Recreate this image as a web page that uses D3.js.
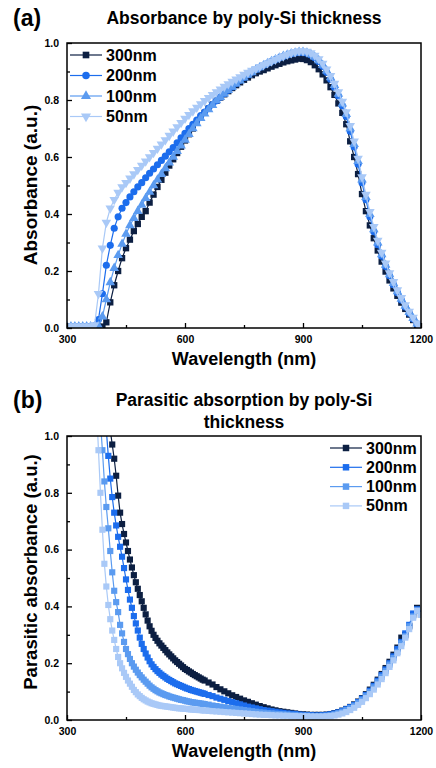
<!DOCTYPE html>
<html>
<head>
<meta charset="utf-8">
<script src="https://cdn.jsdelivr.net/npm/d3@7"></script>
<style>
  body { margin: 0; background: #fff; }
  text { font-family: "Liberation Sans", Arial, sans-serif; font-weight: bold; }
</style>
</head>
<body>
<svg id="chart" width="436" height="768"></svg>
<script>
// legend labels / series names
var thickness = ["300nm", "200nm", "100nm", "50nm"];

// (a) absorbance, 300-1200 nm every 10 nm
var wlA = d3.range(300, 1201, 10);
var absA300 = [0.004,0.004,0.004,0.004,0.004,0.004,0.004,0.004,0.004,0.005,
  0.02,0.09,0.15,0.2,0.245,0.28,0.31,0.34,0.365,0.39,
  0.41,0.44,0.468,0.495,0.52,0.545,0.57,0.592,0.614,0.636,
  0.658,0.68,0.7,0.72,0.738,0.755,0.77,0.784,0.797,0.809,
  0.82,0.831,0.842,0.852,0.862,0.871,0.879,0.887,0.894,0.9,
  0.905,0.911,0.917,0.922,0.927,0.932,0.936,0.939,0.942,0.945,
  0.944,0.94,0.933,0.922,0.908,0.89,0.869,0.845,0.818,0.788,
  0.755,0.715,0.655,0.6,0.54,0.47,0.41,0.36,0.315,0.272,
  0.233,0.198,0.167,0.139,0.113,0.089,0.067,0.047,0.028,0.011,
  0.002];
var absA200 = [0.005,0.005,0.005,0.005,0.005,0.005,0.005,0.008,0.03,0.12,
  0.22,0.29,0.35,0.39,0.42,0.44,0.46,0.478,0.495,0.51,
  0.527,0.543,0.558,0.573,0.588,0.603,0.618,0.633,0.65,0.667,
  0.683,0.7,0.715,0.73,0.745,0.758,0.771,0.784,0.797,0.81,
  0.822,0.834,0.846,0.858,0.869,0.879,0.889,0.898,0.907,0.915,
  0.922,0.929,0.936,0.942,0.948,0.953,0.958,0.962,0.965,0.967,
  0.967,0.964,0.958,0.948,0.935,0.918,0.897,0.873,0.845,0.814,
  0.78,0.742,0.69,0.635,0.575,0.51,0.45,0.39,0.338,0.292,
  0.252,0.216,0.183,0.152,0.124,0.098,0.074,0.052,0.032,0.014,
  0.003];
var absA100 = [0.005,0.005,0.005,0.005,0.005,0.005,0.005,0.005,0.008,0.04,
  0.1,0.16,0.21,0.255,0.295,0.33,0.36,0.385,0.41,0.432,
  0.455,0.477,0.5,0.52,0.54,0.56,0.58,0.6,0.62,0.64,
  0.66,0.68,0.7,0.718,0.736,0.752,0.767,0.782,0.798,0.81,
  0.822,0.834,0.846,0.857,0.868,0.878,0.888,0.897,0.906,0.914,
  0.922,0.929,0.936,0.942,0.948,0.954,0.959,0.963,0.966,0.968,
  0.968,0.966,0.96,0.951,0.939,0.923,0.903,0.879,0.852,0.821,
  0.787,0.75,0.7,0.645,0.585,0.52,0.459,0.399,0.346,0.299,
  0.258,0.221,0.188,0.157,0.128,0.102,0.077,0.055,0.034,0.015,
  0.003];
var absA50 = [0.006,0.006,0.006,0.006,0.006,0.006,0.006,0.01,0.12,0.28,
  0.37,0.42,0.45,0.475,0.495,0.51,0.525,0.54,0.555,0.57,
  0.585,0.6,0.615,0.63,0.645,0.66,0.675,0.69,0.705,0.72,
  0.735,0.748,0.761,0.774,0.786,0.797,0.808,0.818,0.828,0.838,
  0.847,0.856,0.865,0.873,0.881,0.889,0.896,0.903,0.91,0.917,
  0.924,0.93,0.936,0.942,0.948,0.954,0.96,0.965,0.969,0.972,
  0.972,0.97,0.965,0.956,0.944,0.928,0.908,0.885,0.858,0.828,
  0.795,0.758,0.71,0.655,0.595,0.53,0.468,0.408,0.355,0.307,
  0.265,0.227,0.193,0.162,0.133,0.106,0.081,0.058,0.037,0.017,
  0.004];

// (b) parasitic absorbance, 5 nm steps up to 645 nm, then 10 nm
var wlB = d3.range(370, 650, 5).concat(d3.range(650, 1201, 10));
var parB300 = [1.6,1.52,1.44,1.36,1.28,1.21,1.14,1.08,1.02,0.97,
  0.92,0.86,0.79,0.73,0.69,0.655,0.625,0.595,0.565,0.537,
  0.51,0.485,0.462,0.44,0.418,0.395,0.372,0.35,0.33,0.314,
  0.3,0.289,0.279,0.27,0.262,0.254,0.246,0.238,0.231,0.224,
  0.217,0.21,0.204,0.198,0.192,0.186,0.18,0.176,0.171,0.167,
  0.162,0.158,0.154,0.15,0.146,0.142,
  0.139,0.132,0.125,0.116,0.108,0.101,0.094,0.087,0.081,0.075,
  0.069,0.064,0.059,0.054,0.049,0.045,0.041,0.037,0.034,0.031,
  0.029,0.027,0.025,0.023,0.021,0.02,0.019,0.018,0.018,0.018,
  0.018,0.019,0.021,0.024,0.028,0.033,0.039,0.046,0.055,0.065,
  0.077,0.091,0.107,0.124,0.142,0.162,0.183,0.205,0.23,0.255,
  0.29,0.3,0.33,0.37,0.395,0.37];
var parB200 = [1.5,1.42,1.34,1.26,1.18,1.1,1.02,0.93,0.85,0.785,
  0.73,0.685,0.645,0.61,0.575,0.535,0.495,0.458,0.424,0.395,
  0.366,0.34,0.315,0.29,0.268,0.25,0.234,0.22,0.207,0.196,
  0.187,0.179,0.172,0.166,0.16,0.155,0.15,0.145,0.141,0.137,
  0.133,0.129,0.126,0.123,0.12,0.117,0.114,0.111,0.109,0.106,
  0.104,0.102,0.1,0.098,0.096,0.094,
  0.092,0.088,0.084,0.079,0.075,0.071,0.067,0.063,0.059,0.055,
  0.051,0.047,0.044,0.041,0.038,0.035,0.033,0.031,0.029,0.027,
  0.025,0.023,0.022,0.021,0.019,0.018,0.017,0.017,0.016,0.016,
  0.017,0.018,0.02,0.023,0.027,0.032,0.038,0.045,0.053,0.063,
  0.075,0.088,0.103,0.12,0.138,0.158,0.178,0.2,0.224,0.25,
  0.275,0.305,0.335,0.375,0.39,0.375];
var parB100 = [1.35,1.25,1.15,1.05,0.95,0.84,0.75,0.675,0.595,0.52,
  0.455,0.415,0.38,0.335,0.305,0.275,0.25,0.232,0.215,0.2,
  0.188,0.177,0.167,0.158,0.15,0.142,0.135,0.128,0.121,0.115,
  0.11,0.105,0.101,0.097,0.094,0.091,0.088,0.086,0.083,0.081,
  0.079,0.077,0.075,0.073,0.071,0.07,0.068,0.066,0.065,0.063,
  0.062,0.061,0.06,0.059,0.058,0.057,
  0.056,0.054,0.051,0.049,0.047,0.045,0.043,0.041,0.039,0.037,
  0.035,0.033,0.031,0.029,0.027,0.026,0.024,0.023,0.022,0.021,
  0.02,0.019,0.018,0.017,0.016,0.015,0.015,0.014,0.014,0.014,
  0.014,0.015,0.017,0.02,0.024,0.029,0.035,0.042,0.05,0.06,
  0.071,0.084,0.098,0.115,0.133,0.152,0.172,0.195,0.218,0.24,
  0.27,0.295,0.33,0.365,0.385,0.37];
var parB50 = [1.25,1.1,0.95,0.8,0.67,0.55,0.47,0.405,0.355,0.315,
  0.282,0.25,0.222,0.2,0.182,0.166,0.152,0.139,0.128,0.117,
  0.106,0.098,0.09,0.084,0.078,0.073,0.069,0.065,0.062,0.059,
  0.057,0.055,0.053,0.051,0.05,0.049,0.048,0.047,0.046,0.045,
  0.044,0.043,0.042,0.041,0.041,0.04,0.039,0.039,0.038,0.037,
  0.037,0.036,0.036,0.035,0.035,0.034,
  0.033,0.032,0.031,0.03,0.029,0.028,0.027,0.026,0.025,0.024,
  0.023,0.022,0.021,0.02,0.019,0.018,0.018,0.017,0.016,0.016,
  0.015,0.015,0.014,0.014,0.013,0.013,0.013,0.012,0.012,0.012,
  0.012,0.013,0.014,0.016,0.019,0.023,0.028,0.035,0.043,0.053,
  0.064,0.077,0.091,0.107,0.125,0.144,0.165,0.187,0.21,0.235,
  0.26,0.29,0.32,0.36,0.385,0.37];

var xTicks = [300, 600, 900, 1200];
var xMinor = [450, 750, 1050];
var yTicks = [0, 0.2, 0.4, 0.6, 0.8, 1.0];
var yMinor = [0.1, 0.3, 0.5, 0.7, 0.9];

var colors = ["#0c1f42", "#1c6ded", "#5b9bf0", "#a9c9f7"];

var svg = d3.select("#chart");
svg.append("rect").attr("width", 436).attr("height", 768).attr("fill", "#fff");

var left = 67, right = 421;

function drawPanel(cfg) {
  var g = svg.append("g");
  var x = d3.scaleLinear().domain([300, 1200]).range([left, right]);
  var y = d3.scaleLinear().domain([0, 1]).range([cfg.bottom, cfg.top]);

  var clipId = "clip" + cfg.id;
  svg.append("defs").append("clipPath").attr("id", clipId)
    .append("rect")
    .attr("x", left).attr("y", cfg.top)
    .attr("width", right - left).attr("height", cfg.bottom - cfg.top);

  var plot = g.append("g").attr("clip-path", "url(#" + clipId + ")");
  var line = d3.line()
    .x(function(d) { return x(d[0]); })
    .y(function(d) { return y(d[1]); });

  cfg.series.forEach(function(vals, i) {
    var pts = cfg.wl.map(function(w, j) { return [w, vals[j]]; });
    var s = plot.append("g");
    s.append("path")
      .attr("d", line(pts))
      .attr("fill", "none")
      .attr("stroke", colors[i])
      .attr("stroke-width", 1.2);
    var sym = d3.symbol().type(cfg.symbols[i]).size(cfg.symbolSize[i]);
    s.selectAll("path.m")
      .data(pts)
      .enter()
      .append("path")
      .attr("class", "m")
      .attr("d", sym)
      .attr("fill", colors[i])
      .attr("transform", function(d) {
        return "translate(" + x(d[0]) + "," + y(d[1]) + ")" + (cfg.flip[i] ? " rotate(180)" : "");
      });
  });

  // frame
  g.append("rect")
    .attr("x", left).attr("y", cfg.top)
    .attr("width", right - left).attr("height", cfg.bottom - cfg.top)
    .attr("fill", "none").attr("stroke", "#000").attr("stroke-width", 1.5);

  // axes with inward ticks
  var xAxis = g.append("g").attr("transform", "translate(0," + cfg.bottom + ")")
    .call(d3.axisBottom(x).tickValues(xTicks).tickSize(-5).tickPadding(8).tickFormat(d3.format("d")));
  xAxis.append("g").call(d3.axisBottom(x).tickValues(xMinor).tickSize(-3).tickFormat(""));
  var yAxis = g.append("g").attr("transform", "translate(" + left + ",0)")
    .call(d3.axisLeft(y).tickValues(yTicks).tickSize(-5).tickPadding(8).tickFormat(d3.format(".1f")));
  yAxis.append("g").call(d3.axisLeft(y).tickValues(yMinor).tickSize(-3).tickFormat(""));
  g.selectAll(".domain").remove();
  g.selectAll(".tick line").attr("stroke", "#000").attr("stroke-width", 1.3);
  g.selectAll(".tick text").attr("fill", "#000").style("font-size", "10.5px")
    .style("font-family", "Liberation Sans, Arial, sans-serif").style("font-weight", "bold");

  // axis titles
  g.append("text")
    .attr("x", 244).attr("y", cfg.bottom + 37)
    .attr("text-anchor", "middle").style("font-size", "18px")
    .text("Wavelength (nm)");
  g.append("text")
    .attr("transform", "translate(37," + cfg.yTitleMid + ") rotate(-90)")
    .attr("text-anchor", "middle").style("font-size", cfg.yTitleSize)
    .text(cfg.yTitle);

  // panel letter and title
  g.append("text")
    .attr("x", 13).attr("y", cfg.letterY)
    .style("font-size", "23px").text(cfg.letter);
  cfg.title.forEach(function(t, i) {
    g.append("text")
      .attr("x", 244).attr("y", cfg.titleY + i * 22)
      .attr("text-anchor", "middle").style("font-size", "17.5px")
      .text(t);
  });

  // legend
  var lg = g.append("g");
  thickness.forEach(function(name, i) {
    var ly = cfg.legend.y + i * cfg.legend.dy;
    lg.append("line")
      .attr("x1", cfg.legend.x).attr("x2", cfg.legend.x + 32)
      .attr("y1", ly).attr("y2", ly)
      .attr("stroke", colors[i]).attr("stroke-width", 1.2);
    lg.append("path")
      .attr("d", d3.symbol().type(cfg.symbols[i]).size(cfg.symbolSize[i] * 1.1)())
      .attr("fill", colors[i])
      .attr("transform", "translate(" + (cfg.legend.x + 16) + "," + ly + ")" + (cfg.flip[i] ? " rotate(180)" : ""));
    lg.append("text")
      .attr("x", cfg.legend.x + 36).attr("y", ly + 5.5)
      .style("font-size", "16px")
      .text(name);
  });
}

drawPanel({
  id: "a",
  top: 43, bottom: 328,
  wl: wlA,
  series: [absA300, absA200, absA100, absA50],
  symbols: [d3.symbolSquare, d3.symbolCircle, d3.symbolTriangle, d3.symbolTriangle],
  symbolSize: [40, 40, 40, 40],
  flip: [false, false, false, true],
  yTitle: "Absorbance (a.u.)", yTitleMid: 185, yTitleSize: "19px",
  letter: "(a)", letterY: 26,
  title: ["Absorbance by poly-Si thickness"], titleY: 24,
  legend: { x: 70, y: 55, dy: 20.5 }
});

drawPanel({
  id: "b",
  top: 436, bottom: 720,
  wl: wlB,
  series: [parB300, parB200, parB100, parB50],
  symbols: [d3.symbolSquare, d3.symbolSquare, d3.symbolSquare, d3.symbolSquare],
  symbolSize: [38, 38, 38, 38],
  flip: [false, false, false, false],
  yTitle: "Parasitic absorbance (a.u.)", yTitleMid: 572, yTitleSize: "18.5px",
  letter: "(b)", letterY: 408,
  title: ["Parasitic absorption by poly-Si", "thickness"], titleY: 406,
  legend: { x: 330, y: 448, dy: 19.3 }
});
</script>
</body>
</html>
